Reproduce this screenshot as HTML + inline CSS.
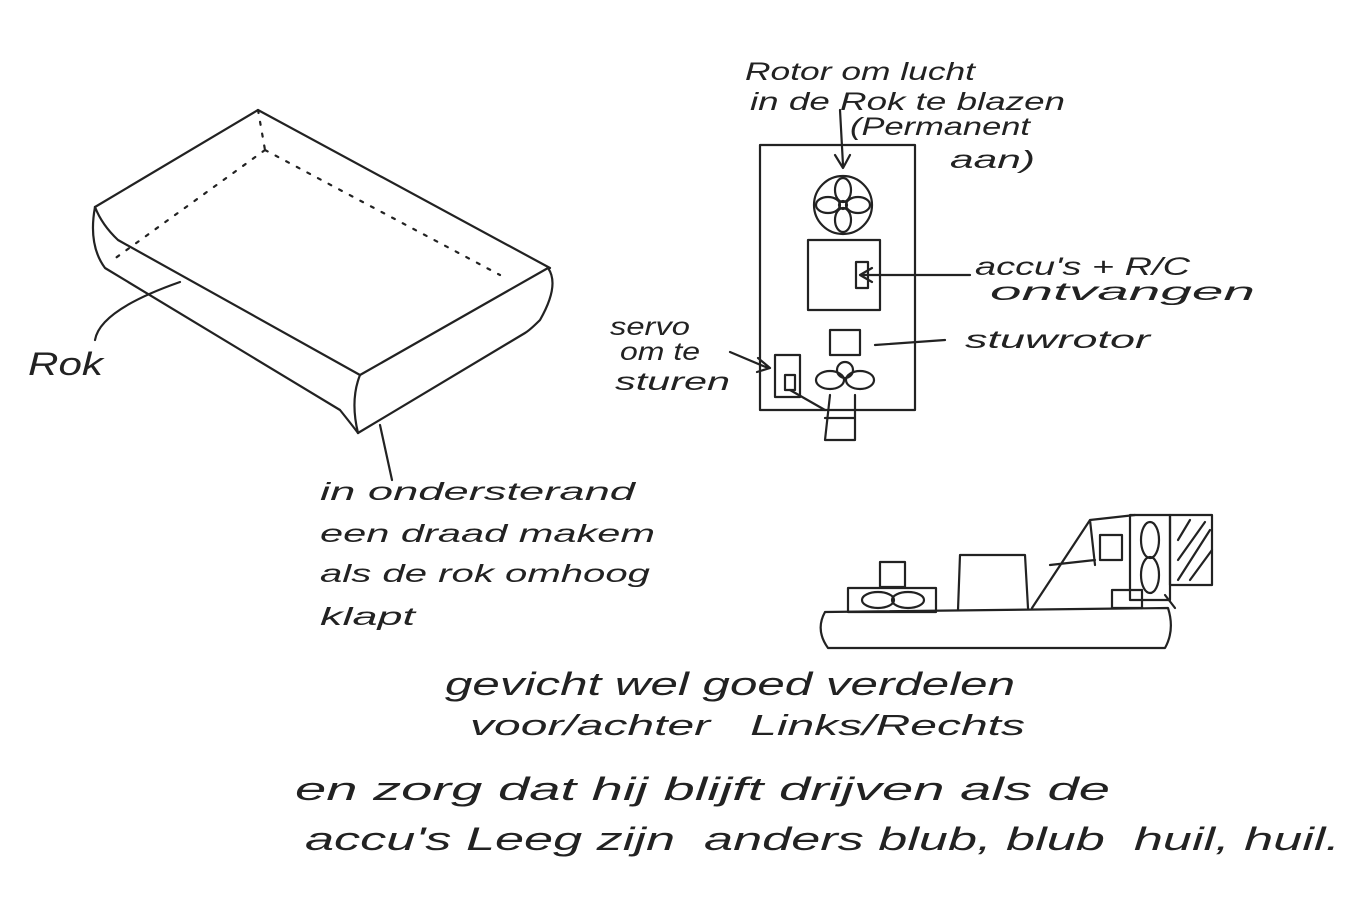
<!DOCTYPE html>
<html><head><meta charset="utf-8"><style>
html,body{margin:0;padding:0;background:#fff;}
svg{display:block;}
text{font-family:"Liberation Sans",sans-serif;fill:#222;font-style:italic;}
</style></head><body>
<svg width="1371" height="906" viewBox="0 0 1371 906" xmlns="http://www.w3.org/2000/svg">
<g fill="none" stroke="#222" stroke-width="2.2" stroke-linecap="round" stroke-linejoin="round">
<path d="M95,207 L258,110 L550,268"/>
<path d="M95,207 Q102,225 118,240 L360,375 L548,268"/>
<path d="M95,207 Q88,245 105,268 L340,410 Q352,425 358,433"/>
<path d="M360,375 Q350,400 358,433"/>
<path d="M548,268 Q560,285 540,320 Q530,330 525,333 L358,433"/>
<path d="M258,110 L265,150" stroke-dasharray="3,9"/>
<path d="M265,150 L110,262" stroke-dasharray="3,9"/>
<path d="M265,150 L500,275" stroke-dasharray="3,9"/>
<path d="M95,340 Q100,310 180,282"/>
<path d="M380,425 L392,480"/>
<rect x="760" y="145" width="155" height="265"/>
<circle cx="843" cy="205" r="29"/>
<circle cx="843" cy="205" r="4"/>
<ellipse cx="843" cy="190" rx="8" ry="12"/>
<ellipse cx="843" cy="220" rx="8" ry="12"/>
<ellipse cx="828" cy="205" rx="12" ry="8"/>
<ellipse cx="858" cy="205" rx="12" ry="8"/>
<rect x="808" y="240" width="72" height="70"/>
<path d="M856,262 L868,262 L868,288 L856,288 Z"/>
<rect x="830" y="330" width="30" height="25"/>
<ellipse cx="830" cy="380" rx="14" ry="9"/>
<ellipse cx="860" cy="380" rx="14" ry="9"/>
<ellipse cx="845" cy="370" rx="8" ry="8"/>
<rect x="775" y="355" width="25" height="42"/>
<path d="M785,375 L785,390 L795,390 L795,375 Z"/>
<path d="M790,390 L825,410 M830,395 L825,440 M855,395 L855,440 M825,418 L855,418 M825,440 L855,440"/>
<path d="M840,110 L843,165 M835,155 L843,168 L850,155"/>
<path d="M970,275 L862,275 M872,268 L860,275 L872,282"/>
<path d="M945,340 L875,345"/>
<path d="M730,352 L768,368 M758,358 L770,368 L757,372"/>
<path d="M825,612 Q815,630 828,648 L1165,648 Q1175,630 1168,608 L825,612 Z"/>
<rect x="848" y="588" width="88" height="24"/>
<rect x="880" y="562" width="25" height="25"/>
<ellipse cx="878" cy="600" rx="16" ry="8"/>
<ellipse cx="908" cy="600" rx="16" ry="8"/>
<path d="M958,610 L960,555 L1025,555 L1028,608"/>
<path d="M1032,608 L1090,520 L1135,515 M1050,565 L1095,560 M1090,520 L1095,565"/>
<rect x="1100" y="535" width="22" height="25"/>
<rect x="1130" y="515" width="40" height="85"/>
<ellipse cx="1150" cy="540" rx="9" ry="18"/>
<ellipse cx="1150" cy="575" rx="9" ry="18"/>
<rect x="1170" y="515" width="42" height="70"/>
<path d="M1178,580 L1210,530 M1178,560 L1205,522 M1190,580 L1212,550 M1178,540 L1190,520" />
<rect x="1112" y="590" width="30" height="18"/>
<path d="M1165,595 L1175,608"/>
</g>
<g font-size="25">
<text x="28" y="375" font-size="32" textLength="75" lengthAdjust="spacingAndGlyphs">Rok</text>
<text x="320" y="500" textLength="315" lengthAdjust="spacingAndGlyphs">in ondersterand</text>
<text x="320" y="542" textLength="335" lengthAdjust="spacingAndGlyphs">een draad makem</text>
<text x="320" y="582" textLength="330" lengthAdjust="spacingAndGlyphs">als de rok omhoog</text>
<text x="320" y="625" textLength="95" lengthAdjust="spacingAndGlyphs">klapt</text>
<text x="745" y="80" textLength="230" lengthAdjust="spacingAndGlyphs">Rotor om lucht</text>
<text x="750" y="110" textLength="315" lengthAdjust="spacingAndGlyphs">in de Rok te blazen</text>
<text x="850" y="135" textLength="180" lengthAdjust="spacingAndGlyphs">(Permanent</text>
<text x="950" y="168" textLength="85" lengthAdjust="spacingAndGlyphs">aan)</text>
<text x="975" y="275" textLength="215" lengthAdjust="spacingAndGlyphs">accu's + R/C</text>
<text x="990" y="300" textLength="265" lengthAdjust="spacingAndGlyphs">ontvangen</text>
<text x="965" y="348" textLength="185" lengthAdjust="spacingAndGlyphs">stuwrotor</text>
<text x="610" y="335" textLength="80" lengthAdjust="spacingAndGlyphs">servo</text>
<text x="620" y="360" textLength="80" lengthAdjust="spacingAndGlyphs">om te</text>
<text x="615" y="390" textLength="115" lengthAdjust="spacingAndGlyphs">sturen</text>
<text x="445" y="695" font-size="32" textLength="570" lengthAdjust="spacingAndGlyphs">gevicht wel goed verdelen</text>
<text x="470" y="735" font-size="29" textLength="555" lengthAdjust="spacingAndGlyphs">voor/achter&#160;&#160;&#160;Links/Rechts</text>
<text x="295" y="800" font-size="32" textLength="815" lengthAdjust="spacingAndGlyphs">en zorg dat hij blijft drijven als de</text>
<text x="305" y="850" font-size="32" textLength="1035" lengthAdjust="spacingAndGlyphs">accu's Leeg zijn&#160;&#160;anders blub, blub&#160;&#160;huil, huil.</text>
</g>
</svg>
</body></html>
